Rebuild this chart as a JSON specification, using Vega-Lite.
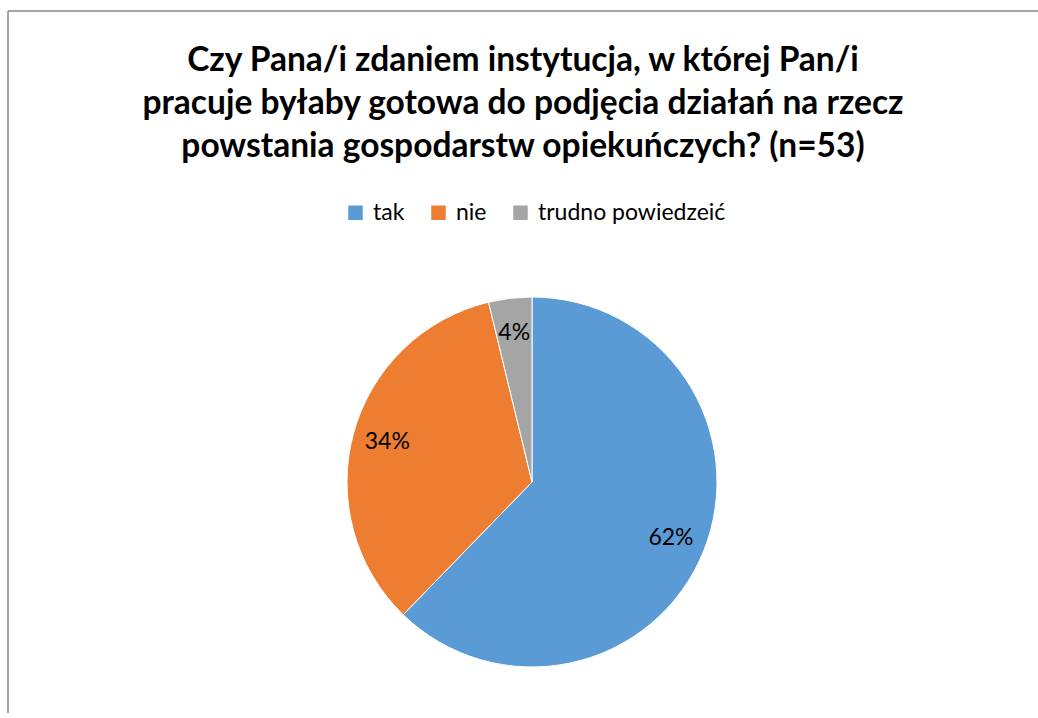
{
  "$schema": "https://vega.github.io/schema/vega-lite/v6.json",
  "width": 1032,
  "height": 702,
  "autosize": {"type": "none"},
  "padding": {"left": 8, "top": 11, "right": -2, "bottom": 0},
  "background": "white",
  "view": {"stroke": "#898989", "strokeWidth": 1.5, "strokeDash": [1032, 1734, 702, 0]},
  "config": {"font": "Lato"},
  "title": {
    "text": ["Czy Pana/i zdaniem instytucja, w której Pan/i", "pracuje byłaby gotowa do podjęcia działań na rzecz", "powstania gospodarstw opiekuńczych? (n=53)"],
    "font": "Lato",
    "fontSize": 33.5,
    "fontWeight": "bold",
    "color": "#000000",
    "lineHeight": 43,
    "anchor": "middle",
    "dx": -1,
    "offset": -153
  },
  "data": {
    "values": [
      {"odpowiedz": "tak", "liczba": 33, "etykieta": "62%", "kolejnosc": 1},
      {"odpowiedz": "nie", "liczba": 18, "etykieta": "34%", "kolejnosc": 2},
      {"odpowiedz": "trudno powiedzeić", "liczba": 2, "etykieta": "4%", "kolejnosc": 3}
    ]
  },
  "encoding": {
    "theta": {"field": "liczba", "type": "quantitative", "stack": true},
    "order": {"field": "kolejnosc", "type": "quantitative"}
  },
  "layer": [
    {
      "mark": {"type": "arc", "outerRadius": 185, "x": {"expr": "width/2+8"}, "y": {"expr": "471"}, "stroke": "white", "strokeWidth": 1},
      "encoding": {
        "color": {
          "field": "odpowiedz",
          "type": "nominal",
          "scale": {"domain": ["tak", "nie", "trudno powiedzeić"], "range": ["#5b9bd5", "#ed7d31", "#a5a5a5"]},
          "legend": {
            "title": null,
            "orient": "none",
            "direction": "horizontal",
            "legendX": 336,
            "legendY": 190,
            "symbolType": "square",
            "symbolSize": 210,
            "symbolStrokeWidth": 0,
            "labelFont": "Lato",
            "labelFontSize": 23,
            "labelLimit": 0,
            "labelColor": "#000000",
            "columnPadding": 22,
            "labelOffset": 6
          }
        }
      }
    },
    {
      "mark": {"type": "text", "radius": 150, "x": {"expr": "width/2+8"}, "y": {"expr": "471"}, "font": "Lato", "fontSize": 23, "color": "#000000"},
      "encoding": {"text": {"field": "etykieta", "type": "nominal"}}
    }
  ]
}
